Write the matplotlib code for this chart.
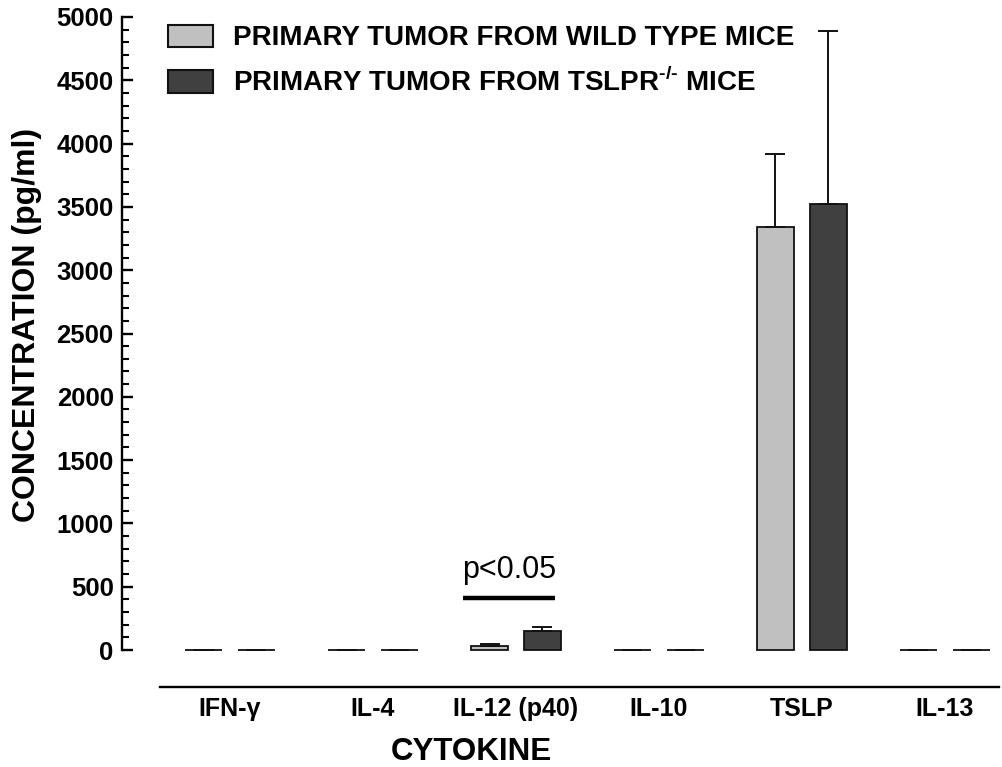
import matplotlib
matplotlib.use("Agg")
import matplotlib.pyplot as plt
import numpy as np

plt.rcParams['font.family'] = ['Liberation Sans', 'DejaVu Sans']
plt.rcParams['mathtext.fontset'] = 'custom'
plt.rcParams['mathtext.rm'] = 'Liberation Sans:bold'
plt.rcParams['mathtext.bf'] = 'Liberation Sans:bold'

categories = ["IFN-γ", "IL-4", "IL-12 (p40)", "IL-10", "TSLP", "IL-13"]
wt_values = [0, 0, 30, 0, 3340, 0]
wt_err = [0, 0, 15, 0, 575, 0]
ko_values = [0, 0, 150, 0, 3520, 0]
ko_err = [0, 0, 35, 0, 1370, 0]
series_labels = ["PRIMARY TUMOR FROM WILD TYPE MICE",
                 r"PRIMARY TUMOR FROM TSLPR$^{\text{-/-}}$ MICE"]
y_ticks = [0, 500, 1000, 1500, 2000, 2500, 3000, 3500, 4000, 4500, 5000]

W, H = 1003, 767
fig = plt.figure(figsize=(W / 100, H / 100), dpi=100)
ax = fig.add_axes([122 / W, 1 - 687 / H, (W - 122) / W, (687 - 17) / H])

x = np.arange(len(categories))
bw = 0.26
off = 0.185
ax.bar(x - off, wt_values, bw, color="#c0c0c0", edgecolor="#111111", linewidth=1.3,
       yerr=[np.zeros(len(x)), wt_err], capsize=7,
       error_kw=dict(ecolor="#111111", elinewidth=1.4, capthick=1.4), label=series_labels[0])
ax.bar(x + off, ko_values, bw, color="#404040", edgecolor="#111111", linewidth=1.3,
       yerr=[np.zeros(len(x)), ko_err], capsize=7,
       error_kw=dict(ecolor="#111111", elinewidth=1.4, capthick=1.4), label=series_labels[1])

ax.set_xlim(-0.755, 5.406)
ax.set_ylim(-292, 5000)

for s in ['top', 'right']:
    ax.spines[s].set_visible(False)
ax.spines['left'].set_bounds(0, 5000)
ax.spines['left'].set_linewidth(1.7)
ax.spines['bottom'].set_bounds(-0.49, 5.38)
ax.spines['bottom'].set_linewidth(1.7)

ax.set_yticks(y_ticks)
ax.set_yticklabels([str(v) for v in y_ticks], fontsize=18.5, fontweight='bold')
ax.set_yticks(np.arange(0, 5001, 100), minor=True)
ax.tick_params(axis='y', which='major', direction='in', length=8, width=1.7, pad=6)
ax.tick_params(axis='y', which='minor', direction='in', length=5, width=1.5)
ax.set_xticks(x)
ax.set_xticklabels(categories, fontsize=18, fontweight='bold')
ax.tick_params(axis='x', length=0, pad=7)

ax.set_ylabel("CONCENTRATION (pg/ml)", fontsize=23, fontweight='bold')
ax.yaxis.set_label_coords(-(122 - 12) / (W - 122), (687 - 325) / (687 - 17))
ax.yaxis.label.set_horizontalalignment('center')
ax.yaxis.label.set_verticalalignment('top')

ax.set_xlabel("CYTOKINE", fontsize=22.5, fontweight='bold')
ax.xaxis.label.set_verticalalignment('top')
ax.xaxis.set_label_coords((471 - 122) / (W - 122), -(737 - 687) / (687 - 17))

# significance annotation
ax.plot([1.63, 2.27], [410, 410], color='black', linewidth=3.2, solid_capstyle='butt')
ax.text(1.95, 630, "p<0.05", ha='center', va='center', fontsize=22)

leg = ax.legend(loc='upper left', bbox_to_anchor=(162 / W, 1 - 19 / H),
                bbox_transform=fig.transFigure, frameon=False,
                prop=dict(size=20, weight='bold'), handlelength=1.65, handleheight=0.85,
                handletextpad=0.7, labelspacing=0.6, borderaxespad=0, borderpad=0.2)
for p in leg.get_patches():
    p.set_linewidth(1.5)

fig.savefig("out.png", dpi=100)
